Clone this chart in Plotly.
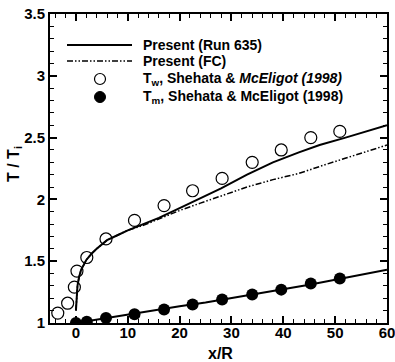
import plotly.graph_objects as go

# ---- data ----
run635_x = [0, 0.1, 0.3, 0.6, 1, 2, 3, 4, 6, 8, 10, 13, 16, 20, 24, 28, 33, 38, 43, 47, 52, 56, 60]
run635_tw = [1.10, 1.20, 1.30, 1.37, 1.43, 1.51, 1.56, 1.60, 1.67, 1.71, 1.75, 1.80, 1.85, 1.93,
             2.01, 2.09, 2.20, 2.30, 2.38, 2.44, 2.50, 2.55, 2.60]
fc_x = [0, 0.1, 0.3, 0.6, 1, 2, 3, 4, 6, 8, 10, 13, 16, 20, 24, 28, 33, 38, 43, 48, 54, 60]
fc_tw = [1.10, 1.20, 1.30, 1.37, 1.43, 1.51, 1.56, 1.60, 1.67, 1.71, 1.75, 1.79, 1.84, 1.91,
         1.97, 2.03, 2.10, 2.16, 2.21, 2.28, 2.36, 2.44]
run635_tm_x = [0, 5, 10, 15, 20, 25, 30, 35, 40, 45, 50, 55, 60]
run635_tm = [1.0, 1.035, 1.065, 1.10, 1.135, 1.165, 1.20, 1.235, 1.27, 1.31, 1.35, 1.39, 1.43]

exp_tw_x = [-3.5, -1.6, -0.3, 0.2, 2.1, 5.8, 11.3, 17.0, 22.5, 28.2, 34.0, 39.6, 45.3, 50.9]
exp_tw = [1.08, 1.16, 1.29, 1.42, 1.53, 1.68, 1.83, 1.95, 2.07, 2.17, 2.30, 2.40, 2.50, 2.55]
exp_tm_x = [0.0, 2.1, 5.8, 11.3, 17.0, 22.5, 28.2, 34.0, 39.6, 45.3, 50.9]
exp_tm = [1.00, 1.01, 1.04, 1.07, 1.11, 1.15, 1.19, 1.23, 1.27, 1.32, 1.36]

x_ticks = [0, 10, 20, 30, 40, 50, 60]
y_ticks = [1, 1.5, 2, 2.5, 3, 3.5]
y_ticklabels = ["1", "1.5", "2", "2.5", "3", "3.5"]

legend_labels = ["Present (Run 635)", "Present (FC)",
                 "T<sub>w</sub>, Shehata & <i>McEligot (1998)</i>",
                 "T<sub>m</sub>, Shehata & McEligot (1998)"]
x_title = "x/R"
y_title = "T / T<sub>i</sub>"

FONT = "Liberation Sans, Arial, sans-serif"
DASHDOT = "6px,2px,1.5px,2px,1.5px,2px"

fig = go.Figure()
fig.add_trace(go.Scatter(x=run635_x, y=run635_tw, mode="lines",
                         line=dict(color="black", width=2), showlegend=False))
fig.add_trace(go.Scatter(x=fc_x, y=fc_tw, mode="lines",
                         line=dict(color="black", width=1.5, dash=DASHDOT), showlegend=False))
fig.add_trace(go.Scatter(x=run635_tm_x, y=run635_tm, mode="lines",
                         line=dict(color="black", width=2), showlegend=False))
fig.add_trace(go.Scatter(x=exp_tw_x, y=exp_tw, mode="markers",
                         marker=dict(symbol="circle-open", size=12, color="black",
                                     line=dict(width=1.2)), showlegend=False))
fig.add_trace(go.Scatter(x=exp_tm_x, y=exp_tm, mode="markers",
                         marker=dict(symbol="circle", size=12, color="black"), showlegend=False))

# ---- custom legend (pixel layout -> paper coords) ----
L, R, T, B = 50, 387, 14, 323
def px(xp):
    return (xp - L) / (R - L)
def py(yp):
    return (B - yp) / (B - T)

rows_y = [45, 61, 79, 97]
fig.add_shape(type="line", xref="paper", yref="paper", x0=px(67), x1=px(132),
              y0=py(rows_y[0]), y1=py(rows_y[0]), line=dict(color="black", width=2))
fig.add_shape(type="line", xref="paper", yref="paper", x0=px(67), x1=px(132),
              y0=py(rows_y[1]), y1=py(rows_y[1]), line=dict(color="black", width=1.5, dash=DASHDOT))
fig.add_shape(type="circle", xref="paper", yref="paper", xsizemode="pixel", ysizemode="pixel",
              xanchor=px(100), yanchor=py(rows_y[2]), x0=-5.5, x1=5.5, y0=-5.5, y1=5.5,
              line=dict(color="black", width=1.2), fillcolor="rgba(0,0,0,0)")
fig.add_shape(type="circle", xref="paper", yref="paper", xsizemode="pixel", ysizemode="pixel",
              xanchor=px(100), yanchor=py(rows_y[3]), x0=-5.5, x1=5.5, y0=-5.5, y1=5.5,
              line=dict(color="black", width=1), fillcolor="black")
for lab, ry in zip(legend_labels, rows_y):
    fig.add_annotation(text=lab, xref="paper", yref="paper", x=px(141), y=py(ry),
                       xanchor="left", yanchor="middle", showarrow=False,
                       font=dict(family=FONT, size=14, color="black", weight="bold"))

# axis titles as annotations (keeps plot area fixed)
title_font = dict(family=FONT, size=16, color="black", weight="bold")
fig.add_annotation(text=x_title, xref="paper", yref="paper", x=px(220), y=py(353),
                   xanchor="center", yanchor="middle", showarrow=False, font=title_font)
fig.add_annotation(text=y_title, xref="paper", yref="paper", x=px(14), y=py(164),
                   xanchor="center", yanchor="middle", showarrow=False, textangle=-90,
                   font=title_font)

axis_common = dict(showline=True, linecolor="black", linewidth=2, mirror="allticks",
                   ticks="inside", ticklen=7, tickwidth=1.5, tickcolor="black",
                   showgrid=False, zeroline=False, automargin=False,
                   ticklabeloverflow="allow",
                   tickfont=dict(family=FONT, size=15, color="black", weight="bold"))

fig.update_xaxes(range=[-5, 60], tickvals=x_ticks, ticklabelstandoff=-5, **axis_common,
                 minor=dict(dtick=2, ticks="inside", ticklen=4, tickwidth=1, tickcolor="black"))
fig.update_yaxes(range=[1, 3.5], tickvals=y_ticks, ticktext=y_ticklabels, **axis_common,
                 minor=dict(dtick=0.1, ticks="inside", ticklen=4, tickwidth=1, tickcolor="black"))

fig.update_layout(width=395, height=362, margin=dict(l=50, r=8, t=14, b=39),
                  paper_bgcolor="white", plot_bgcolor="white", showlegend=False)

fig.write_html("out.html")
